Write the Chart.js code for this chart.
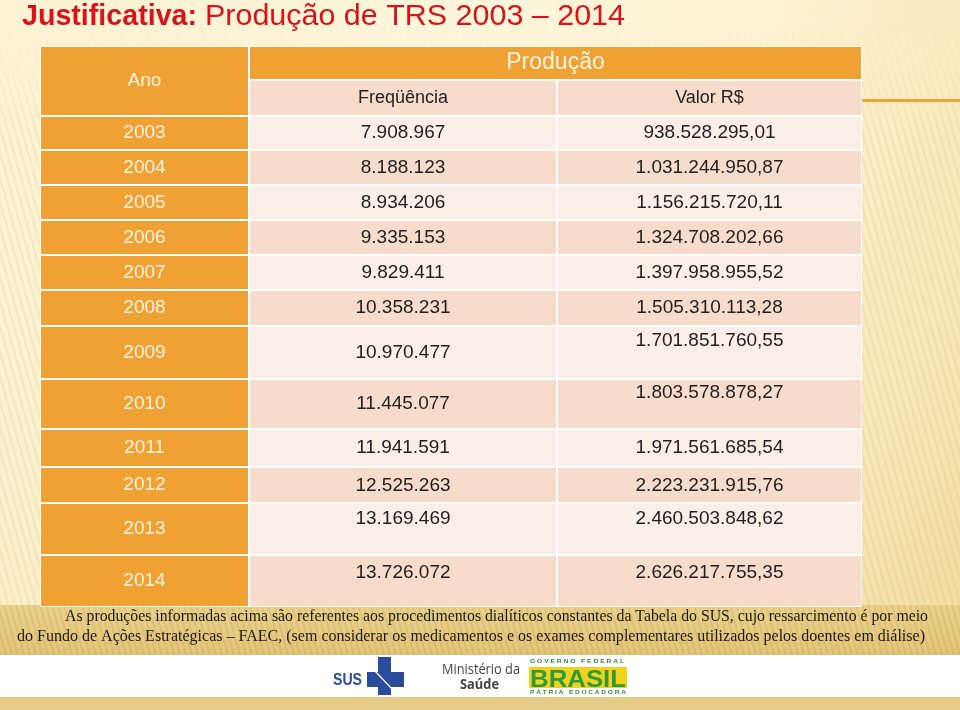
<!DOCTYPE html>
<html>
<head>
<meta charset="utf-8">
<script src="https://cdn.jsdelivr.net/npm/chart.js@4/dist/chart.umd.min.js"></script>
<style>
html,body{margin:0;padding:0;background:#fbefc8;}
#wrap{width:960px;height:710px;position:relative;}
canvas{display:block;}
</style>
</head>
<body>
<div id="wrap"><canvas id="c" width="960" height="710"></canvas></div>
<script>
// ---- DATA ----
const anos = ['2003','2004','2005','2006','2007','2008','2009','2010','2011','2012','2013','2014'];
const frequencia = [7908967, 8188123, 8934206, 9335153, 9829411, 10358231, 10970477, 11445077, 11941591, 12525263, 13169469, 13726072];
const valor = [938528295.01, 1031244950.87, 1156215720.11, 1324708202.66, 1397958955.52, 1505310113.28, 1701851760.55, 1803578878.27, 1971561685.54, 2223231915.76, 2460503848.62, 2626217755.35];
const cabecalhoAno = 'Ano';
const cabecalhoGrupo = 'Produção';
const colunas = ['Freqüência', 'Valor R$'];
const tituloDestaque = 'Justificativa:';
const titulo = 'Produção de TRS 2003 – 2014';
const notaLinhas = [
  'As produções informadas acima são referentes aos procedimentos dialíticos constantes da Tabela do SUS, cujo ressarcimento é por meio',
  'do Fundo de Ações Estratégicas – FAEC, (sem considerar os medicamentos e os exames complementares utilizados pelos doentes em diálise)'
];

// ---- LAYOUT (positions in scale units) ----
const colX = [40, 249, 557, 862];            // Ano | Freq | Valor boundaries
const headY = [46, 80, 116];
const rowY = [116, 150, 185, 220, 255, 290, 326, 379, 429, 467, 503, 555, 607];
const freqOff = [0,0,0,0,0,0,0,0,0,1,-10,-8];
const valOff  = [0,0,0,0,0,0,-12,-11,0,1,-10,-8];

function fmt(n, dec) {
  const s = n.toFixed(dec);
  const parts = s.split('.');
  const int = parts[0].replace(/\B(?=(\d{3})+(?!\d))/g, '.');
  return dec ? int + ',' + parts[1] : int;
}

function fitText(ctx, text, x, y, w) {
  const m = ctx.measureText(text).width;
  ctx.save();
  ctx.translate(x, y);
  ctx.scale(w / m, 1);
  ctx.textAlign = 'left';
  ctx.fillText(text, 0, 0);
  ctx.restore();
}

const tablePlugin = {
  id: 'tablePlugin',
  beforeDraw(chart) {
    const ctx = chart.ctx;
    const sx = chart.scales.x, sy = chart.scales.y;
    const X = v => sx.getPixelForValue(v);
    const Y = v => sy.getPixelForValue(v);
    const W = 960, H = 710;
    ctx.save();
    // background
    let g = ctx.createLinearGradient(0, 0, W, H);
    g.addColorStop(0, '#fcf1cf');
    g.addColorStop(0.5, '#fbedc4');
    g.addColorStop(1, '#f2d999');
    ctx.fillStyle = g;
    ctx.fillRect(0, 0, W, H);
    let rg = ctx.createRadialGradient(480, 120, 20, 480, 200, 700);
    rg.addColorStop(0, 'rgba(255,250,230,0.7)');
    rg.addColorStop(1, 'rgba(255,250,230,0)');
    ctx.fillStyle = rg;
    ctx.fillRect(0, 0, W, H);
    // subtle stripes, fading in from the top
    const sg = ctx.createLinearGradient(0, 20, 0, 140);
    sg.addColorStop(0, 'rgba(200,160,70,0)');
    sg.addColorStop(1, 'rgba(200,160,70,0.14)');
    ctx.strokeStyle = sg;
    ctx.lineWidth = 2;
    for (let i = -400; i < 1200; i += 7) {
      ctx.beginPath();
      ctx.moveTo(i, 0);
      ctx.lineTo(i + 200, H);
      ctx.stroke();
    }
    // footnote band
    g = ctx.createLinearGradient(0, 605, 0, 655);
    g.addColorStop(0, '#ead28c');
    g.addColorStop(1, '#e2c57a');
    ctx.fillStyle = g;
    ctx.fillRect(0, 605, W, 50);
    ctx.save();
    ctx.beginPath(); ctx.rect(0, 605, W, 50); ctx.clip();
    ctx.strokeStyle = 'rgba(180,140,50,0.18)';
    for (let i = -200; i < 1100; i += 6) {
      ctx.beginPath(); ctx.moveTo(i, 605); ctx.lineTo(i + 14, 655); ctx.stroke();
    }
    ctx.restore();
    // bottom bands
    ctx.fillStyle = '#ffffff';
    ctx.fillRect(0, 655, W, 42);
    ctx.fillStyle = '#e6cc86';
    ctx.fillRect(0, 697, W, 13);
    // right orange rule
    ctx.fillStyle = '#eaa43a';
    ctx.fillRect(X(862), Y(99), W - X(862), 3);
    ctx.restore();
  },
  afterDraw(chart) {
    const ctx = chart.ctx;
    const sx = chart.scales.x, sy = chart.scales.y;
    const X = v => sx.getPixelForValue(v);
    const Y = v => sy.getPixelForValue(v);
    const cell = (x0, x1, y0, y1, color) => {
      ctx.fillStyle = color;
      ctx.fillRect(X(x0) + 1, Y(y0) + 1, X(x1) - X(x0) - 2, Y(y1) - Y(y0) - 2);
    };
    const ORANGE = '#efa233', DARK = '#f8dccb', LIGHT = '#fbeee6';
    ctx.save();
    // table white base
    ctx.fillStyle = '#ffffff';
    ctx.fillRect(X(colX[0]), Y(headY[0]), X(colX[3]) - X(colX[0]), Y(rowY[rowY.length - 1]) - Y(headY[0]));
    // header
    cell(colX[0], colX[1], headY[0], headY[2], ORANGE);
    cell(colX[1], colX[3], headY[0], headY[1], ORANGE);
    cell(colX[1], colX[2], headY[1], headY[2], DARK);
    cell(colX[2], colX[3], headY[1], headY[2], DARK);
    // body
    for (let i = 0; i < anos.length; i++) {
      const bg = i % 2 === 0 ? LIGHT : DARK;
      cell(colX[0], colX[1], rowY[i], rowY[i + 1], ORANGE);
      cell(colX[1], colX[2], rowY[i], rowY[i + 1], bg);
      cell(colX[2], colX[3], rowY[i], rowY[i + 1], bg);
    }
    // header text
    ctx.textAlign = 'center';
    ctx.textBaseline = 'middle';
    ctx.fillStyle = '#fdf3e3';
    ctx.font = '19px "Liberation Sans", Arial, sans-serif';
    ctx.fillText(cabecalhoAno, X((colX[0] + colX[1]) / 2), Y((headY[0] + headY[2]) / 2));
    ctx.font = '23px "Liberation Sans", Arial, sans-serif';
    ctx.fillText(cabecalhoGrupo, X((colX[1] + colX[3]) / 2), Y((headY[0] + headY[1]) / 2));
    ctx.fillStyle = '#222222';
    ctx.font = '18px "Liberation Sans", Arial, sans-serif';
    ctx.fillText(colunas[0], X((colX[1] + colX[2]) / 2), Y((headY[1] + headY[2]) / 2));
    ctx.fillText(colunas[1], X((colX[2] + colX[3]) / 2), Y((headY[1] + headY[2]) / 2));
    // body text
    ctx.font = '19px "Liberation Sans", Arial, sans-serif';
    for (let i = 0; i < anos.length; i++) {
      const cy = (rowY[i] + rowY[i + 1]) / 2;
      ctx.fillStyle = '#fdf3e3';
      ctx.fillText(anos[i], X((colX[0] + colX[1]) / 2), Y(cy));
      ctx.fillStyle = '#1e1e1e';
      ctx.fillText(fmt(frequencia[i], 0), X((colX[1] + colX[2]) / 2), Y(cy + freqOff[i]));
      ctx.fillText(fmt(valor[i], 2), X((colX[2] + colX[3]) / 2), Y(cy + valOff[i]));
    }
    // title
    ctx.textBaseline = 'alphabetic';
    ctx.fillStyle = '#d8131b';
    ctx.font = 'bold 29px "Liberation Sans Narrow", "Liberation Sans", Arial, sans-serif';
    fitText(ctx, tituloDestaque, X(22), Y(25), 175);
    ctx.font = '29px "Liberation Sans Narrow", "Liberation Sans", Arial, sans-serif';
    fitText(ctx, titulo, X(205), Y(25), 420);
    // footnote
    ctx.fillStyle = '#1a1a1a';
    ctx.font = '17px "Liberation Serif", "Times New Roman", serif';
    fitText(ctx, notaLinhas[0], X(65), Y(621), 863);
    fitText(ctx, notaLinhas[1], X(17), Y(641), 908);
    // logos
    // SUS
    ctx.fillStyle = '#2b4b9b';
    ctx.font = 'bold 17px "Liberation Sans", Arial, sans-serif';
    ctx.textBaseline = 'middle';
    fitText(ctx, 'SUS', 333, 680, 29);
    ctx.fillRect(378, 657, 13, 38);
    ctx.fillRect(367, 672, 37, 15);
    ctx.strokeStyle = '#ffffff';
    ctx.lineWidth = 1.2;
    ctx.beginPath(); ctx.moveTo(374, 670); ctx.lineTo(393, 690); ctx.stroke();
    // Ministério
    ctx.fillStyle = '#444444';
    ctx.font = '14px "Open Sans", "Liberation Sans", sans-serif';
    fitText(ctx, 'Ministério da', 442, 670, 78);
    ctx.font = 'bold 14px "Open Sans", "Liberation Sans", sans-serif';
    fitText(ctx, 'Saúde', 460, 685, 39);
    // Brasil
    ctx.fillStyle = '#2e8b3a';
    ctx.font = 'bold 6px "Liberation Sans", Arial, sans-serif';
    fitText(ctx, 'G O V E R N O   F E D E R A L', 530, 661, 94);
    ctx.fillStyle = '#f1d21c';
    ctx.fillRect(529, 667, 98, 21);
    ctx.fillStyle = '#2e9a3c';
    ctx.font = 'bold 24px "Liberation Sans", Arial, sans-serif';
    ctx.textBaseline = 'alphabetic';
    fitText(ctx, 'BRASIL', 530, 687, 96);
    ctx.fillStyle = '#2e8b3a';
    ctx.font = 'bold 6px "Liberation Sans", Arial, sans-serif';
    ctx.textBaseline = 'middle';
    fitText(ctx, 'P Á T R I A   E D U C A D O R A', 530, 692, 96);
    ctx.restore();
  }
};

new Chart(document.getElementById('c'), {
  type: 'scatter',
  data: { datasets: [{ data: [], pointRadius: 0 }] },
  options: {
    responsive: false,
    animation: false,
    devicePixelRatio: 1,
    layout: { padding: 0 },
    plugins: { legend: { display: false }, tooltip: { enabled: false }, title: { display: false } },
    scales: {
      x: { type: 'linear', min: 0, max: 960, display: false },
      y: { type: 'linear', min: 0, max: 710, reverse: true, display: false }
    }
  },
  plugins: [tablePlugin]
});
</script>
</body>
</html>
